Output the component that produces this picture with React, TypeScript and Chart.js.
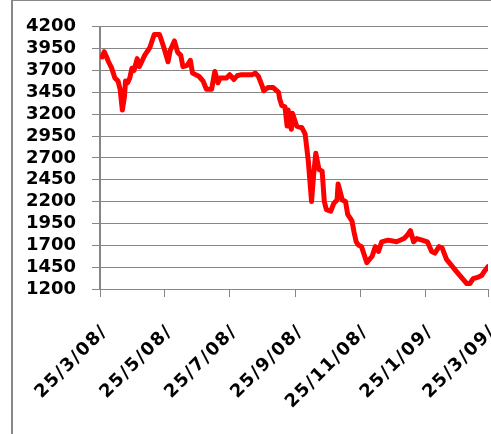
import React, { useEffect, useRef } from "react";
import { Chart, registerables } from "chart.js";

Chart.register(...registerables);

// Days elapsed since 25/3/08
const dayOffsets = [
  2, 4, 6, 8, 11, 14, 17, 19, 21, 23, 24, 26, 28, 30, 32, 35, 37, 40, 42, 47,
  51, 54, 56, 60, 64, 66, 70, 73, 76, 78, 82, 85, 87, 93, 97, 100, 105, 108, 111, 113,
  119, 122, 126, 129, 133, 138, 143, 146, 149, 152, 154, 158, 163, 168, 169, 171, 174, 176, 177, 180,
  181, 185, 190, 193, 196, 199, 201, 203, 206, 209, 211, 213, 217, 220, 223, 224, 228, 231, 233, 237,
  239, 241, 243, 246, 251, 256, 259, 262, 265, 271, 279, 286, 289, 292, 295, 298, 303, 308, 312, 315,
  319, 322, 326, 331, 336, 341, 345, 348, 351, 356, 359, 362, 365,
];

const indexValues = [
  3855, 3915, 3860, 3800, 3726, 3615, 3579, 3480, 3248, 3400, 3580, 3560, 3615, 3726, 3700, 3836, 3744, 3820, 3873, 3965,
  4112, 4112, 4112, 3965, 3800, 3928, 4038, 3910, 3873, 3744, 3760, 3817, 3670, 3634, 3579, 3486, 3486, 3689, 3560, 3615,
  3615, 3652, 3597, 3640, 3652, 3650, 3652, 3670, 3634, 3542, 3468, 3505, 3505, 3450, 3376, 3300, 3284, 3064, 3248, 3027,
  3211, 3064, 3045, 2972, 2659, 2200, 2512, 2752, 2568, 2549, 2200, 2108, 2090, 2181, 2218, 2402, 2218, 2200, 2053, 1980,
  1850, 1740, 1704, 1685, 1501, 1575, 1685, 1630, 1740, 1759, 1740, 1777, 1814, 1869, 1740, 1777, 1759, 1740, 1630, 1611,
  1685, 1666, 1538, 1464, 1391, 1318, 1263, 1263, 1318, 1336, 1354, 1409, 1456,
];

const xTickDays = [0, 61, 122, 184, 245, 306, 365];
const xTickLabels = ["25/3/08/", "25/5/08/", "25/7/08/", "25/9/08/", "25/11/08/", "25/1/09/", "25/3/09/"];
const yTicks = [1200, 1450, 1700, 1950, 2200, 2450, 2700, 2950, 3200, 3450, 3700, 3950, 4200];

const GRID = "#868686";

export default function App() {
  const canvasRef = useRef<HTMLCanvasElement | null>(null);

  useEffect(() => {
    const canvas = canvasRef.current;
    if (!canvas) return;
    const points = dayOffsets.map((d, i) => ({ x: d, y: indexValues[i] }));
    const chart = new Chart(canvas, {
      type: "line",
      data: {
        datasets: [
          {
            data: points,
            borderColor: "#ff0000",
            backgroundColor: "#ff0000",
            borderWidth: 5,
            pointRadius: 0,
            tension: 0,
            borderJoinStyle: "round",
            borderCapStyle: "round",
          },
        ],
      },
      options: {
        animation: false,
        responsive: false,
        maintainAspectRatio: false,
        devicePixelRatio: 1,
        layout: { padding: { top: 17, right: 3, left: 0, bottom: 0 } },
        plugins: { legend: { display: false }, tooltip: { enabled: false }, title: { display: false } },
        scales: {
          x: {
            type: "linear",
            position: "bottom",
            min: xTickDays[0],
            max: xTickDays[xTickDays.length - 1],
            afterBuildTicks: (scale: any) => {
              scale.ticks = xTickDays.map((v) => ({ value: v }));
            },
            afterFit: (scale: any) => {
              scale.height = 145;
              scale.paddingRight = 0;
              scale.paddingLeft = 0;
              if (!scale._spacedLabels) {
                scale._spacedLabels = true;
                const orig = scale.drawLabels.bind(scale);
                scale.drawLabels = (area: any) => {
                  const ctx = scale.ctx;
                  ctx.save();
                  (ctx as any).letterSpacing = "1.5px";
                  orig(area);
                  ctx.restore();
                };
              }
            },
            grid: { drawOnChartArea: false, drawTicks: true, tickLength: 8, color: GRID, lineWidth: 1 },
            border: { color: GRID, width: 1 },
            ticks: {
              autoSkip: false,
              maxRotation: 45,
              minRotation: 45,
              padding: 24,
              labelOffset: 5,
              color: "#000",
              font: { family: "DejaVu Sans", size: 18, weight: "bold" },
              callback: (value: any) => {
                const i = xTickDays.indexOf(Number(value));
                return i >= 0 ? xTickLabels[i] : "";
              },
            },
          },
          y: {
            type: "linear",
            min: yTicks[0],
            max: yTicks[yTicks.length - 1],
            afterBuildTicks: (scale: any) => {
              scale.ticks = yTicks.map((v) => ({ value: v }));
            },
            afterFit: (scale: any) => {
              scale.width = 100;
            },
            grid: { color: GRID, lineWidth: 1, drawTicks: true, tickLength: 8 },
            border: { color: GRID, width: 2 },
            ticks: {
              autoSkip: false,
              padding: 16,
              color: "#000",
              font: { family: "DejaVu Sans", size: 18, weight: "bold" },
              callback: (value: any) => String(value),
            },
          },
        },
      },
    });
    return () => chart.destroy();
  }, []);

  return (
    <div style={{ position: "fixed", left: 0, top: 0, width: 491, height: 434, background: "#fff", overflow: "hidden" }}>
      <div
        style={{
          position: "absolute",
          left: 11,
          top: 0,
          width: 480,
          height: 434,
          borderLeft: "2px solid #888",
          borderTop: "1px solid #888",
          boxSizing: "border-box",
        }}
      />
      <canvas ref={canvasRef} width={491} height={434} style={{ position: "absolute", left: 0, top: 0, width: 491, height: 434 }} />
    </div>
  );
}
